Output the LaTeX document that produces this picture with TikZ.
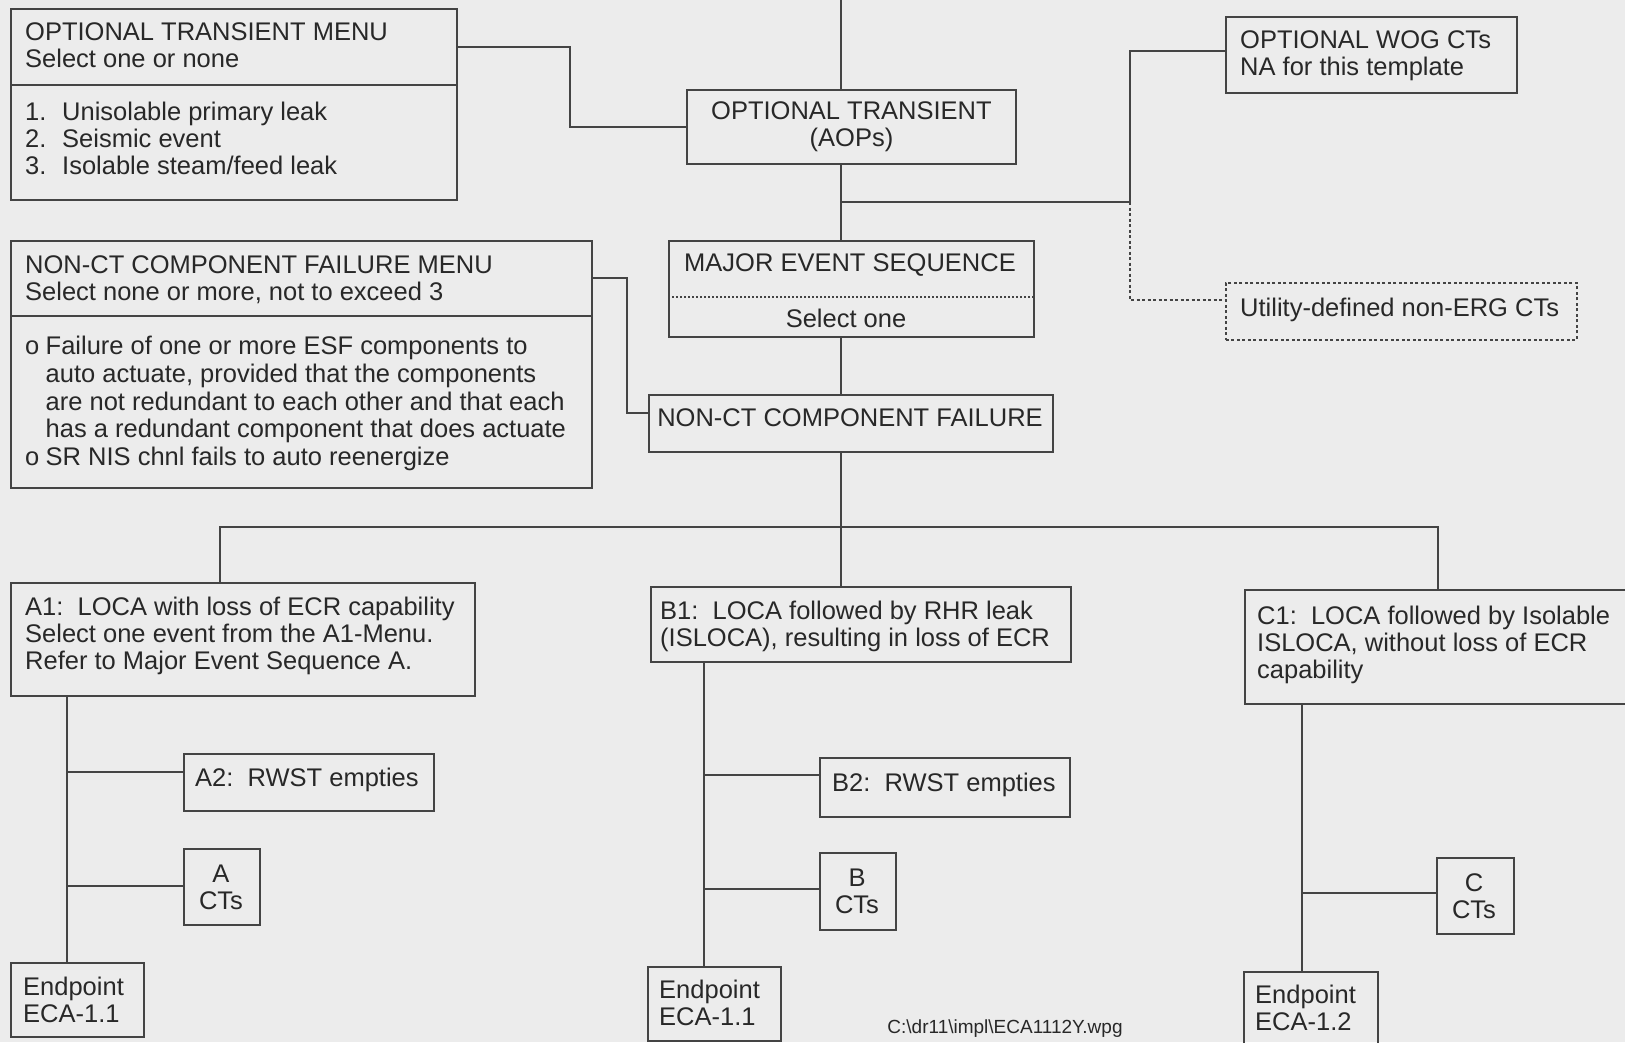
\documentclass[tikz,border=0pt]{standalone}
\usepackage{fontspec}
\setmainfont{Liberation Sans}
\usetikzlibrary{calc}
\definecolor{paper}{RGB}{236,236,236}
\definecolor{ink}{RGB}{68,68,68}
\definecolor{txtc}{RGB}{40,40,40}
\tikzset{
  box/.style={draw=ink, line width=1.9pt, inner sep=0pt, anchor=north west},
  wire/.style={draw=ink, line width=1.9pt},
  txt/.style={inner sep=0pt, align=left, text=txtc, font=\fontsize{25.5}{27}\selectfont},
  ctxt/.style={txt, align=center},
}
\newcommand{\bx}[5]{\node[box, minimum width=#4pt, minimum height=#5pt, #1] (#2) at (#3) {};}
\begin{document}
\begin{tikzpicture}[x=1pt, y=-1pt]
\clip (0,0) rectangle (1625,1042);
\fill[paper] (0,0) rectangle (1625,1042);

% ---- boxes ----
\bx{}{otm}{10,8}{446}{191}
\bx{}{ot}{686,89}{329}{74}
\bx{}{wog}{1225,16}{291}{76}
\bx{dash pattern=on 3pt off 2.5pt, line width=1.5pt}{util}{1225,282}{351}{57}
\bx{}{mes}{668,240}{365}{96}
\bx{}{ncm}{10,240}{581}{247}
\bx{}{nc}{648,394}{404}{57}
\bx{}{a1}{10,582}{464}{113}
\bx{}{b1}{650,586}{420}{75}
\bx{}{c1}{1244,589}{400}{114}
\bx{}{a2}{183,753}{250}{57}
\bx{}{acts}{183,848}{76}{76}
\bx{}{ea}{10,962}{133}{74}
\bx{}{b2}{819,757}{250}{59}
\bx{}{bcts}{819,852}{76}{77}
\bx{}{eb}{647,966}{133}{74}
\bx{}{ccts}{1436,857}{77}{76}
\bx{}{ec}{1243,971}{134}{80}

% dividers inside the menu boxes
\draw[wire] (otm.west |- 0,85) -- (otm.east |- 0,85);
\draw[wire] (ncm.west |- 0,316) -- (ncm.east |- 0,316);
\draw[draw=ink, line width=1.5pt, dash pattern=on 2pt off 2pt] (mes.west |- 0,297) -- (mes.east |- 0,297);

% ---- texts ----
\node[txt, anchor=north west] (otmh) at (25,22) {OPTIONAL TRANSIENT MENU\\Select one or none};
\node[txt, anchor=north west] (otmi) at (25,102) {\makebox[37pt][l]{1.}Unisolable primary leak\\\makebox[37pt][l]{2.}Seismic event\\\makebox[37pt][l]{3.}Isolable steam/feed leak};
\node[ctxt] (ott) at (ot.center) {OPTIONAL TRANSIENT\\(AOPs)};
\node[txt, anchor=north west] (wogt) at (1240,30) {OPTIONAL WOG CTs\\NA for this template};
\node[txt, anchor=north west] (utilt) at (1240,298) {Utility-defined non-ERG CTs};
\node[ctxt] (mest) at (850,265) {MAJOR EVENT SEQUENCE};
\node[ctxt] (mess) at (846,318) {Select one};
\node[txt, anchor=north west] (ncmh) at (25,255) {NON-CT COMPONENT FAILURE MENU\\Select none or more, not to exceed 3};
\node[txt, anchor=north west, font=\fontsize{25.5}{27.7}\selectfont] (ncmi) at (25,336) {\makebox[20.5pt][l]{o}Failure of one or more ESF components to\\\hspace*{20.5pt}auto actuate, provided that the components\\\hspace*{20.5pt}are not redundant to each other and that each\\\hspace*{20.5pt}has a redundant component that does actuate\\\makebox[20.5pt][l]{o}SR NIS chnl fails to auto reenergize};
\node[ctxt] (nct) at (850,418) {NON-CT COMPONENT FAILURE};
\node[txt, anchor=north west] (a1t) at (25,597) {A1:\ \ LOCA with loss of ECR capability\\Select one event from the A1-Menu.\\Refer to Major Event Sequence A.};
\node[txt, anchor=north west] (b1t) at (660,601) {B1:\ \ LOCA followed by RHR leak\\(ISLOCA), resulting in loss of ECR};
\node[txt, anchor=north west] (c1t) at (1257,606) {C1:\ \ LOCA followed by Isolable\\ISLOCA, without loss of ECR\\capability};
\node[txt, anchor=base west] (a2t) at (195,786) {A2:\ \ RWST empties};
\node[txt, anchor=base west] (b2t) at (832,791) {B2:\ \ RWST empties};
\node[ctxt, anchor=north] (actst) at (221,865) {A\\CTs};
\node[ctxt, anchor=north] (bctst) at (857,869) {B\\CTs};
\node[ctxt, anchor=north] (cctst) at (1474,873) {C\\CTs};
\node[txt, anchor=north west] (eat) at (23,977) {Endpoint\\ECA-1.1};
\node[txt, anchor=north west] (ebt) at (659,980) {Endpoint\\ECA-1.1};
\node[txt, anchor=north west] (ect) at (1255,985) {Endpoint\\ECA-1.2};
\node[txt, font=\fontsize{19}{20}\selectfont] (foot) at (1005,1029) {C:\textbackslash dr11\textbackslash impl\textbackslash ECA1112Y.wpg};

% ---- connectors ----
\coordinate (top) at (841,0);
\coordinate (sideJ) at (841,202);
\coordinate (sideK) at (1130,202);
\coordinate (wogJ) at (1130,51);
\coordinate (utilJ) at (1130,300);
\coordinate (bus) at (841,527);
\coordinate (busL) at (220,527);
\coordinate (busR) at (1438,527);
\coordinate (k1) at (570,47);
\coordinate (k2) at (627,278);
\coordinate (k3) at (627,413);

\draw[wire] (top) -- (top |- ot.north);
\draw[wire] (ot.south -| top) -- (mes.north -| top);
\draw[wire] (sideJ) -- (sideK) -- (wogJ) -- (wogJ -| wog.west);
\draw[draw=ink, line width=1.5pt, dash pattern=on 3pt off 2.5pt] (sideK) -- (utilJ) -- (utilJ -| util.west);
\draw[wire] (mes.south -| top) -- (nc.north -| top);
\draw[wire] (nc.south -| top) -- (bus);
\draw[wire] (busL |- a1.north) -- (busL) -- (busR) -- (busR |- c1.north);
\draw[wire] (bus) -- (b1.north -| top);
\draw[wire] (k1 -| otm.east) -- (k1) |- (ot.west);
\draw[wire] (k2 -| ncm.east) -- (k2) -- (k3) -- (k3 -| nc.west);

% branch A
\coordinate (as) at (67,0);
\coordinate (a2j) at (67,772);
\coordinate (acj) at (67,886);
\draw[wire] (a1.south -| as) -- (ea.north -| as);
\draw[wire] (a2j) -- (a2j -| a2.west);
\draw[wire] (acj) -- (acj -| acts.west);

% branch B
\coordinate (bs) at (704,0);
\coordinate (b2j) at (704,775);
\coordinate (bcj) at (704,889);
\draw[wire] (b1.south -| bs) -- (eb.north -| bs);
\draw[wire] (b2j) -- (b2j -| b2.west);
\draw[wire] (bcj) -- (bcj -| bcts.west);

% branch C
\coordinate (cs) at (1302,0);
\coordinate (ccj) at (1302,893);
\draw[wire] (c1.south -| cs) -- (ec.north -| cs);
\draw[wire] (ccj) -- (ccj -| ccts.west);
\end{tikzpicture}
\end{document}
